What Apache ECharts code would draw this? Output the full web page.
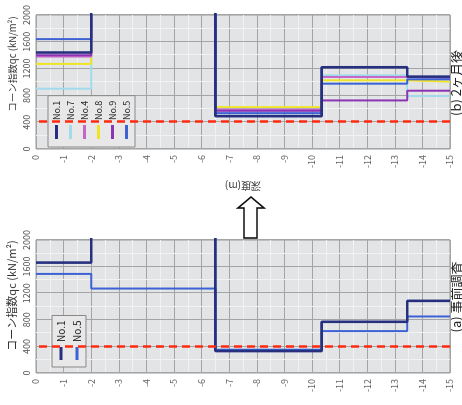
<!DOCTYPE html>
<html>
<head>
<meta charset="utf-8">
<script src="https://cdn.jsdelivr.net/npm/echarts@6/dist/echarts.min.js"></script>
<style>
html,body{margin:0;padding:0;background:#fff;overflow:hidden;width:462px;height:405px;}
#wrap{position:absolute;left:0;top:0;width:405px;height:462px;transform-origin:0 0;transform:translate(0px,405px) rotate(-90deg);}
</style>
</head>
<body>
<div id="wrap"></div>
<script>
// depth layer boundaries (m)
const depthBounds = [0, -2, -6.5, -10.35, -13.45, -15];
const depthTicks = [0, -1, -2, -3, -4, -5, -6, -7, -8, -9, -10, -11, -12, -13, -14, -15];
const qcTicks = [0, 400, 800, 1200, 1600, 2000];
const threshold = 400;

// panel (b): qc per layer (kN/m2); 2500 = above chart range
const namesB = ['No.1', 'No.7', 'No.4', 'No.8', 'No.9', 'No.5'];
const b_No1 = [1440, 2500, 490, 1220, 1080];
const b_No7 = [900, 2500, 610, 1100, 790];
const b_No4 = [1380, 2500, 590, 1075, 1060];
const b_No8 = [1270, 2500, 625, 1025, 1005];
const b_No9 = [1400, 2500, 570, 725, 870];
const b_No5 = [1640, 2500, 535, 975, 1040];

// panel (a)
const namesA = ['No.1', 'No.5'];
const a_No1 = [1660, 2500, 330, 770, 1085];
const a_No5 = [1490, 1270, 350, 630, 850];

const colors = {'No.1':'#27307f','No.7':'#a2dcec','No.4':'#c468c8','No.8':'#f0e428','No.9':'#8a36b4','No.5':'#3d62d4'};
const widths = {'No.1':2.6,'No.7':2,'No.4':2,'No.8':2,'No.9':2,'No.5':2};

function stepPoints(vals){
  const pts = [];
  for (let i = 0; i < vals.length; i++){
    pts.push([vals[i], depthBounds[i]]);
    pts.push([vals[i], depthBounds[i+1]]);
  }
  return pts;
}

const font = '"Noto Sans CJK JP","Noto Sans",sans-serif';

function mkX(idx, nameSize, gap, pad){
  return {
    type:'value', gridIndex:idx, min:qcTicks[0], max:qcTicks[qcTicks.length-1], interval:400,
    position:'top',
    name:'コーン指数qc (kN/m²)', nameLocation:'middle', nameGap:gap,
    nameTextStyle:{fontSize:nameSize, color:'#333', fontFamily:font, padding:pad},
    axisLine:{show:false}, axisTick:{show:false},
    axisLabel:{fontSize:9, color:'#555', margin:5, fontFamily:font, formatter:function(v){return String(v);}},
    splitLine:{show:true, lineStyle:{color:'#a4a4a4', width:1}},
    minorTick:{show:false, splitNumber:2},
    minorSplitLine:{show:true, lineStyle:{color:'#f2f2f2', width:1}}
  };
}
function mkY(idx, showName){
  return {
    type:'value', gridIndex:idx, min:depthTicks[depthTicks.length-1], max:depthTicks[0], interval:1,
    name: showName ? '深度(m)' : '', nameLocation:'middle', nameGap:32,
    nameTextStyle:{fontSize:10, color:'#333', fontFamily:font},
    axisLine:{show:false}, axisTick:{show:false},
    axisLabel:{fontSize:9, color:'#666', margin:6, fontFamily:font, formatter:function(v){return String(v);}},
    splitLine:{show:true, lineStyle:{color:'#a4a4a4', width:1}},
    minorTick:{show:false, splitNumber:2},
    minorSplitLine:{show:true, lineStyle:{color:'#f2f2f2', width:1}}
  };
}

function mkSeries(name, vals, gi, withMark){
  const s = {
    name:name, type:'line', xAxisIndex:gi, yAxisIndex:gi,
    data:stepPoints(vals), showSymbol:false, symbol:'none',
    lineStyle:{color:colors[name], width:widths[name]},
    itemStyle:{color:colors[name]}, silent:true, animation:false, z:3
  };
  if (withMark){
    s.markLine = {
      silent:true, symbol:['none','none'], label:{show:false},
      lineStyle:{color:'#ff2a10', type:[8,5], width:2.5},
      data:[{xAxis:threshold}], animation:false
    };
  }
  return s;
}

const seriesB = [
  mkSeries('No.7', b_No7, 1, true),
  mkSeries('No.8', b_No8, 1, false),
  mkSeries('No.4', b_No4, 1, false),
  mkSeries('No.9', b_No9, 1, false),
  mkSeries('No.5', b_No5, 1, false),
  mkSeries('No.1', b_No1, 1, false)
];
const seriesA = [
  mkSeries('No.5', a_No5, 0, true),
  mkSeries('No.1', a_No1, 0, false)
];

const chart = echarts.init(document.getElementById('wrap'), null, {renderer:'canvas', width:405, height:462});
chart.setOption({
  animation:false,
  backgroundColor:'#fff',
  grid:[
    {left:32, width:133, top:36, bottom:12, show:true, backgroundColor:'#e3e4e6', borderColor:'#999', borderWidth:1},
    {left:256, width:134, top:36, bottom:12, show:true, backgroundColor:'#e3e4e6', borderColor:'#999', borderWidth:1}
  ],
  xAxis:[mkX(0, 11, 14, [0,0,0,22]), mkX(1, 9.5, 18, [0,0,0,36])],
  yAxis:[mkY(0, false), mkY(1, true)],
  legend:[
    {data:namesA, orient:'vertical', left:38, top:52, padding:[4,5,4,7], itemGap:6,
     itemWidth:13, itemHeight:3, icon:'rect', selectedMode:false,
     backgroundColor:'#e8e8e8', borderColor:'#888', borderWidth:1,
     textStyle:{fontSize:10, color:'#222', fontFamily:font}},
    {data:namesB, orient:'vertical', left:258, top:48, padding:[4,5,4,8], itemGap:5,
     itemWidth:14, itemHeight:3, icon:'rect', selectedMode:false,
     backgroundColor:'#e8e8e8', borderColor:'#888', borderWidth:1,
     textStyle:{fontSize:9, color:'#222', fontFamily:font}}
  ],
  graphic:[
    {type:'polygon', shape:{points:[[167,244],[197,244],[197,238],[208,251],[197,264],[197,257],[167,257]]},
     style:{fill:'#fff', stroke:'#111', lineWidth:1.6}},
    {type:'text', x:322, y:450, style:{text:'(b) 2ヶ月後', align:'center', verticalAlign:'top', fontSize:13, fill:'#222', fontFamily:font}},
    {type:'text', x:108, y:450, style:{text:'(a) 事前調査', align:'center', verticalAlign:'top', fontSize:13, fill:'#222', fontFamily:font}}
  ],
  series: seriesA.concat(seriesB)
});
</script>
</body>
</html>
